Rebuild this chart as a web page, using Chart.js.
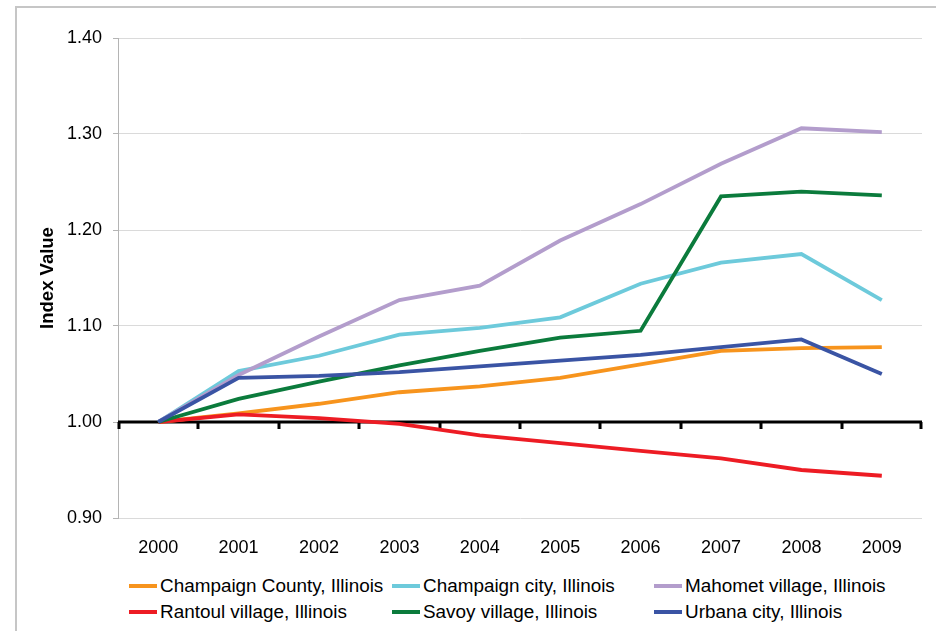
<!DOCTYPE html>
<html>
<head>
<meta charset="utf-8">
<title>Index Value, Champaign County places 2000-2009</title>
<script src="https://cdn.jsdelivr.net/npm/chart.js@4.4.1/dist/chart.umd.min.js"></script>
<style>
  html, body { margin: 0; padding: 0; background: #fff; }
  body { width: 936px; height: 631px; overflow: hidden; position: relative; font-family: Arial, "Liberation Sans", sans-serif; }
  .frame { position: absolute; left: 15px; top: 6px; width: 1000px; height: 700px; border: 2px solid #c6c6c6; box-sizing: border-box; }
  .chart-box { position: absolute; left: 0; top: 0; width: 936px; height: 570px; }
  .legend { position: absolute; left: 0; top: 0; }
  .legend-item { position: absolute; height: 26px; white-space: nowrap; }
  .legend-item i { position: absolute; left: 0; top: 11px; width: 28px; height: 4px; }
  .legend-item span { position: absolute; left: 31px; top: 0; line-height: 26px; font-size: 18.9px; color: #000; }
</style>
</head>
<body>
<div class="frame"></div>
<div class="chart-box"><canvas id="chart"></canvas></div>
<div class="legend" id="legend"></div>
<script>
const years = ['2000', '2001', '2002', '2003', '2004', '2005', '2006', '2007', '2008', '2009'];
const yTicks = [0.9, 1.0, 1.1, 1.2, 1.3, 1.4];

const champaignCounty = [1.000, 1.009, 1.019, 1.031, 1.037, 1.046, 1.060, 1.074, 1.077, 1.078];
const champaignCity = [1.000, 1.053, 1.069, 1.091, 1.098, 1.109, 1.144, 1.166, 1.175, 1.127];
const mahomet = [1.000, 1.049, 1.089, 1.127, 1.142, 1.189, 1.227, 1.269, 1.306, 1.302];
const rantoul = [1.000, 1.008, 1.004, 0.998, 0.986, 0.978, 0.970, 0.962, 0.950, 0.944];
const savoy = [1.000, 1.024, 1.042, 1.059, 1.074, 1.088, 1.095, 1.235, 1.240, 1.236];
const urbana = [1.000, 1.046, 1.048, 1.052, 1.058, 1.064, 1.070, 1.078, 1.086, 1.050];

const seriesNames = [
  'Champaign County, Illinois', 'Champaign city, Illinois', 'Mahomet village, Illinois',
  'Rantoul village, Illinois', 'Savoy village, Illinois', 'Urbana city, Illinois'
];
const seriesValues = [champaignCounty, champaignCity, mahomet, rantoul, savoy, urbana];
const seriesColors = ['#F7941D', '#6DCADB', '#B39DCC', '#ED1C24', '#0B7B3C', '#3A54A4'];

const font = 'Arial, "Liberation Sans", sans-serif';

// black axis line at 1.00 with tick marks between categories
const baseLine = {
  id: 'baseLine',
  beforeDatasetsDraw(chart) {
    const { ctx, chartArea, scales } = chart;
    const y = scales.y.getPixelForValue(1);
    const step = scales.x.getPixelForTick(1) - scales.x.getPixelForTick(0);
    ctx.save();
    ctx.strokeStyle = '#000';
    ctx.lineWidth = 3;
    ctx.beginPath();
    ctx.moveTo(chartArea.left, y);
    ctx.lineTo(chartArea.right, y);
    ctx.stroke();
    ctx.beginPath();
    for (let i = 0; i <= years.length; i++) {
      let x = Math.round(scales.x.getPixelForTick(0) - step / 2 + step * i);
      x = Math.min(Math.max(x, chartArea.left + 1), chartArea.right - 1);
      ctx.moveTo(x, y);
      ctx.lineTo(x, y + 7);
    }
    ctx.stroke();
    ctx.restore();
  }
};

new Chart(document.getElementById('chart'), {
  type: 'line',
  data: {
    labels: years,
    datasets: seriesNames.map((name, i) => ({
      label: name,
      data: seriesValues[i],
      borderColor: seriesColors[i],
      backgroundColor: seriesColors[i],
      borderWidth: 3.8,
      pointRadius: 0,
      tension: 0,
      order: seriesNames.length - 1 - i
    }))
  },
  options: {
    responsive: true,
    maintainAspectRatio: false,
    animation: false,
    layout: { padding: { top: 38, right: 14, left: 0, bottom: 0 } },
    plugins: { legend: { display: false }, tooltip: { enabled: false } },
    scales: {
      x: {
        offset: true,
        grid: { display: false, drawTicks: false, tickLength: 0 },
        border: { display: false },
        ticks: { color: '#000', font: { family: font, size: 18 }, padding: 19, maxRotation: 0 },
        afterFit(scale) { scale.height = 52; }
      },
      y: {
        min: 0.9,
        max: 1.4,
        afterBuildTicks(scale) { scale.ticks = yTicks.map((v) => ({ value: v })); },
        grid: { color: '#dadada', tickColor: '#b4b4b4', tickLength: 5 },
        border: { display: true, color: '#b4b4b4' },
        ticks: {
          color: '#000',
          font: { family: font, size: 18 },
          padding: 11,
          callback(value) { return Number(value).toFixed(2); }
        },
        title: {
          display: true,
          text: 'Index Value',
          color: '#000',
          font: { family: font, size: 18.5, weight: 'bold' },
          padding: { top: 37, bottom: 0 }
        },
        afterFit(scale) { scale.width = 118; }
      }
    }
  },
  plugins: [baseLine]
});

// legend in three fixed columns, like the original
const legendCols = [129, 392, 654];
const legendRows = [573, 599];
const legend = document.getElementById('legend');
seriesNames.forEach((name, i) => {
  const item = document.createElement('div');
  item.className = 'legend-item';
  item.style.left = legendCols[i % 3] + 'px';
  item.style.top = legendRows[Math.floor(i / 3)] + 'px';
  const mark = document.createElement('i');
  mark.style.background = seriesColors[i];
  const text = document.createElement('span');
  text.textContent = name;
  item.append(mark, text);
  legend.appendChild(item);
});
</script>
</body>
</html>
